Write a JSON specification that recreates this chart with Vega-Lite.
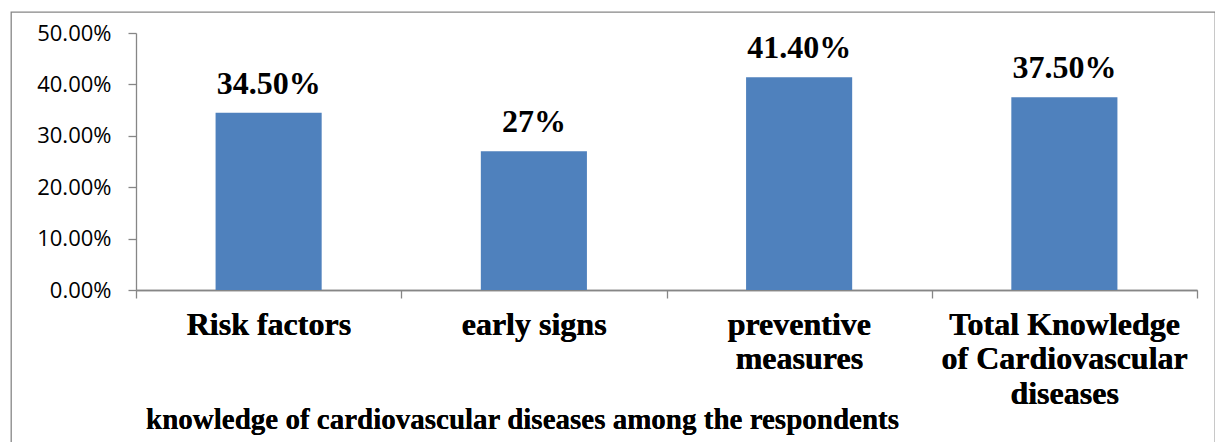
{
  "$schema": "https://vega.github.io/schema/vega-lite/v6.json",
  "autosize": "none",
  "padding": {"left": 11, "top": 12, "right": 0, "bottom": 0},
  "width": 1204,
  "height": 440,
  "background": "white",
  "config": {
    "view": {"stroke": "#868686", "strokeWidth": 1.3},
    "axis": {"grid": false}
  },
  "data": {
    "values": [
      {"category": "Risk factors", "share": 0.345, "label": "34.50%"},
      {"category": "early signs", "share": 0.27, "label": "27%"},
      {"category": "preventive\nmeasures", "share": 0.414, "label": "41.40%"},
      {"category": "Total Knowledge\nof Cardiovascular\ndiseases", "share": 0.375, "label": "37.50%"}
    ]
  },
  "encoding": {
    "x": {
      "field": "category",
      "type": "nominal",
      "sort": null,
      "scale": {"range": [125, 1186], "paddingInner": 0.6, "paddingOuter": 0.3},
      "axis": {
        "orient": "bottom",
        "offset": -162,
        "title": "knowledge of cardiovascular diseases among the respondents",
        "titleFont": "Liberation Serif, Times New Roman, serif",
        "titleFontWeight": "bold",
        "titleFontSize": 29,
        "titleColor": "black",
        "titleX": 511,
        "titleY": 138,
        "titleAlign": "center",
        "titleBaseline": "alphabetic",
        "titleAngle": 0,
        "labelExpr": "split(datum.label, '\\n')",
        "labelFont": "Liberation Serif, Times New Roman, serif",
        "labelFontWeight": "bold",
        "labelFontSize": 32,
        "labelColor": "black",
        "labelLineHeight": 34.5,
        "labelBaseline": "alphabetic",
        "labelPadding": 44,
        "labelAngle": 0,
        "labelLimit": 500,
        "labelOverlap": false,
        "labelFlush": false,
        "ticks": false,
        "domainColor": "#868686",
        "domainWidth": 1.3
      }
    },
    "y": {
      "field": "share",
      "type": "quantitative",
      "scale": {"domain": [0, 0.5], "range": [278, 21], "nice": false},
      "axis": {
        "orient": "left",
        "offset": -125,
        "title": null,
        "values": [0, 0.1, 0.2, 0.3, 0.4, 0.5],
        "format": ".2%",
        "labelFont": "Open Sans",
        "labelFontSize": 22,
        "labelColor": "black",
        "labelPadding": 17,
        "tickSize": 8,
        "tickColor": "#868686",
        "tickWidth": 1.3,
        "domainColor": "#868686",
        "domainWidth": 1.3
      }
    }
  },
  "layer": [
    {"mark": {"type": "bar", "color": "#4F81BD"}},
    {
      "mark": {
        "type": "text",
        "font": "Liberation Serif, Times New Roman, serif",
        "fontWeight": "bold",
        "fontSize": 32,
        "color": "black",
        "baseline": "alphabetic",
        "dy": -19
      },
      "encoding": {"text": {"field": "label"}}
    },
    {
      "mark": {"type": "point", "opacity": 0},
      "encoding": {
        "x": {
          "datum": 0,
          "type": "quantitative",
          "scale": {"domain": [0, 4], "range": [125, 1186], "nice": false, "zero": false},
          "axis": {
            "orient": "bottom",
            "offset": -162,
            "title": null,
            "values": [0, 1, 2, 3, 4],
            "labels": false,
            "domain": false,
            "tickSize": 8,
            "tickColor": "#868686",
            "tickWidth": 1.3
          }
        }
      }
    }
  ],
  "resolve": {"scale": {"x": "independent"}, "axis": {"x": "independent"}}
}
